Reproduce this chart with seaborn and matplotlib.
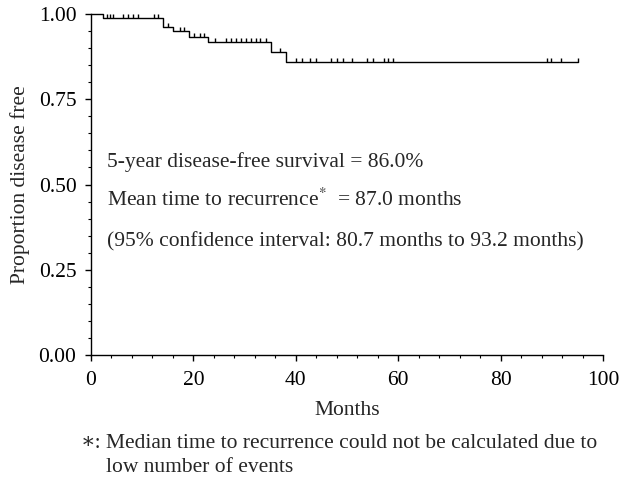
import numpy as np
import pandas as pd
import matplotlib
matplotlib.use("Agg")
import matplotlib.pyplot as plt
from matplotlib.path import Path
from matplotlib.ticker import MultipleLocator, FormatStrFormatter
import seaborn as sns

# Kaplan-Meier step data (months, proportion disease free)
step_months = [0.0, 2.25, 14.1, 16.1, 19.1, 22.9, 35.1, 38.1]
step_levels = [1.000, 0.988, 0.962, 0.950, 0.933, 0.918, 0.889, 0.860]
last_followup = 95.2

# censored observations (months)
censor_months = [3.2, 3.7, 4.2, 6.3, 7.3, 8.3, 9.2, 12.4, 13.0,
                 15.0,
                 17.4, 18.2,
                 20.1, 21.3, 22.1,
                 24.2, 26.3, 27.3, 28.3, 29.2, 30.2, 31.2, 32.2, 33.1, 34.1,
                 37.0,
                 40.0, 41.2, 42.7, 44.0, 46.9, 48.0, 49.2, 51.0, 54.0, 55.0,
                 57.2, 58.0, 58.9,
                 89.0, 89.8, 91.8, 95.2]

x_ticks = [0, 20, 40, 60, 80, 100]
y_ticks = [0.00, 0.25, 0.50, 0.75, 1.00]

sns.set_theme(style="ticks")
plt.rcParams["font.family"] = ["Liberation Serif", "DejaVu Serif"]
plt.rcParams["mathtext.fontset"] = "stix"

fig = plt.figure(figsize=(6.2, 4.79), dpi=100)
ax = fig.add_axes([91 / 620, 1 - 355 / 479, 512 / 620, 341 / 479])

curve = pd.DataFrame({"month": step_months + [last_followup],
                      "prop": step_levels + [step_levels[-1]]})
sns.lineplot(data=curve, x="month", y="prop", drawstyle="steps-post",
             estimator=None, color="black", lw=1.0, ax=ax, clip_on=False)

idx = np.searchsorted(step_months, censor_months, side="right") - 1
cens = pd.DataFrame({"month": censor_months,
                     "prop": [step_levels[i] for i in idx]})
tick_marker = Path([(0, 0), (0, 1)], [Path.MOVETO, Path.LINETO])
sns.scatterplot(data=cens, x="month", y="prop", marker=tick_marker, s=36,
                color="black", edgecolor="black", linewidth=1.0, ax=ax,
                clip_on=False, zorder=3)

fs = 15.5
ax.set_xlim(0, 100)
ax.set_ylim(0, 1)
ax.set_xticks(x_ticks)
ax.set_yticks(y_ticks)
ax.yaxis.set_major_formatter(FormatStrFormatter("%.2f"))
ax.xaxis.set_minor_locator(MultipleLocator(4))
ax.yaxis.set_minor_locator(MultipleLocator(0.05))
ax.tick_params(which="major", direction="out", length=4.5, width=1.0,
               labelsize=fs, colors="black")
ax.tick_params(axis="x", which="major", pad=7)
ax.tick_params(axis="y", which="major", pad=6)
ax.tick_params(which="minor", direction="out", length=2.2, width=0.8,
               colors="black")
for s in ["top", "right"]:
    ax.spines[s].set_visible(False)
for s in ["left", "bottom"]:
    ax.spines[s].set_linewidth(1.0)
    ax.spines[s].set_color("black")

ax.set_xlabel("Months", fontsize=fs, labelpad=8)
ax.set_ylabel("Proportion disease free", fontsize=fs, labelpad=6)

ax.text(3.1, 0.566, "5-year disease-free survival = 86.0%", fontsize=fs, va="center")
ax.text(3.1, 0.455, "Mean time to recurrence$^{*}$  = 87.0 months", fontsize=fs, va="center")
ax.text(3.1, 0.331, "(95% confidence interval: 80.7 months to 93.2 months)", fontsize=fs, va="center")

fig.text(81 / 620, 1 - 443 / 479, "\u2217:", fontsize=fs, va="center", ha="left")
fig.text(106 / 620, 1 - 443 / 479, "Median time to recurrence could not be calculated due to",
         fontsize=fs, va="center", ha="left")
fig.text(106 / 620, 1 - 467 / 479, "low number of events", fontsize=fs, va="center", ha="left")

fig.savefig("out.png", dpi=100)
